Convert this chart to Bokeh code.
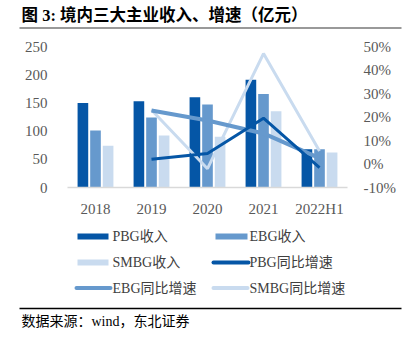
from bokeh.plotting import figure
from bokeh.layouts import column, row
from bokeh.models import (FactorRange, Range1d, LinearAxis, FixedTicker, PrintfTickFormatter,
                          ColumnDataSource)
from bokeh.core.properties import value
from bokeh.transform import dodge
from bokeh.embed import file_html
from bokeh.resources import INLINE

# ---- data ----
years = ["2018", "2019", "2020", "2021", "2022H1"]
pbg_rev = [150, 153, 160, 191, 68]
ebg_rev = [101, 124, 147, 166, 68]
smbg_rev = [74, 92, 90, 135, 62]
growth_years = ["2019", "2020", "2021", "2022H1"]
pbg_growth = [2.0, 4.5, 19.5, -1.5]
ebg_growth = [22.8, 18.5, 13.0, 2.5]
smbg_growth = [23.0, -2.0, 47.0, 5.5]
left_ticks = [0, 50, 100, 150, 200, 250]
right_ticks = [-10, 0, 10, 20, 30, 40, 50]
legend_labels = ["PBG收入", "EBG收入", "SMBG收入", "PBG同比增速", "EBG同比增速", "SMBG同比增速"]

title_text = "图 3:  境内三大主业收入、增速（亿元）"
source_text = "数据来源：wind，东北证券"

C_PBG = "#0556A6"
C_EBG = "#6699CD"
C_SMBG = "#C9DBEF"
SERIF = "Liberation Serif"
MIX = "Liberation Serif, Noto Sans CJK SC"
W = 412


def blank(h):
    f = figure(frame_width=W, frame_height=h, x_range=Range1d(0, W), y_range=Range1d(h, 0),
               x_axis_type=None, y_axis_type=None, output_backend="svg", toolbar_location=None,
               min_border=0, min_border_left=0, min_border_right=0,
               min_border_top=0, min_border_bottom=0, title=None)
    f.outline_line_color = None
    f.grid.grid_line_color = None
    f.border_fill_color = "white"
    f.background_fill_color = "white"
    return f


# ---- title strip (canvas y 0..36) ----
fa = blank(36)
fa.text(x=[21], y=[15], text=[title_text], text_font=value(MIX), text_font_style="bold",
        text_font_size="16.5px", text_baseline="middle", text_color="#000000")
fa.line(x=[19, 210, 401], y=[27.5, 27.5, 27.5], line_color="#999999", line_width=2)

# ---- main chart (canvas y 36..222) ----
p = figure(frame_width=280, frame_height=141, x_range=FactorRange(*years), y_range=Range1d(0, 250),
           output_backend="svg", toolbar_location=None,
           min_border_left=67, min_border_right=65, min_border_top=10, min_border_bottom=35)
p.extra_y_ranges = {"pct": Range1d(-10, 50)}
p.outline_line_color = None
p.grid.grid_line_color = None
p.border_fill_color = "white"

src = ColumnDataSource(dict(x=years, pbg=pbg_rev, ebg=ebg_rev, smbg=smbg_rev))
bw = 0.19
p.vbar(x=dodge("x", -0.225, range=p.x_range), top="pbg", width=bw, source=src,
       fill_color=C_PBG, line_color=None)
p.vbar(x=dodge("x", 0.0, range=p.x_range), top="ebg", width=bw, source=src,
       fill_color=C_EBG, line_color=None)
p.vbar(x=dodge("x", 0.225, range=p.x_range), top="smbg", width=bw, source=src,
       fill_color=C_SMBG, line_color=None)

p.line(growth_years, smbg_growth, y_range_name="pct", line_color=C_SMBG, line_width=3)
p.line(growth_years, ebg_growth, y_range_name="pct", line_color=C_EBG, line_width=4)
p.line(growth_years, pbg_growth, y_range_name="pct", line_color=C_PBG, line_width=3)

p.yaxis.ticker = FixedTicker(ticks=left_ticks)
p.yaxis.axis_line_color = None
p.yaxis.major_tick_line_color = None
p.yaxis.minor_tick_line_color = None
p.yaxis.major_label_text_font = SERIF
p.yaxis.major_label_text_font_size = "15px"
p.yaxis.major_label_text_color = "#595959"
p.yaxis.major_label_standoff = 14

ra = LinearAxis(y_range_name="pct", ticker=FixedTicker(ticks=right_ticks),
                formatter=PrintfTickFormatter(format="%d%%"))
ra.axis_line_color = None
ra.major_tick_line_color = None
ra.minor_tick_line_color = None
ra.major_label_text_font = SERIF
ra.major_label_text_font_size = "15px"
ra.major_label_text_color = "#595959"
ra.major_label_standoff = 10
p.add_layout(ra, "right")

p.xaxis.axis_line_color = "#D9D9D9"
p.xaxis.axis_line_width = 1.5
p.xaxis.major_tick_line_color = None
p.xaxis.minor_tick_line_color = None
p.xaxis.major_label_text_font = SERIF
p.xaxis.major_label_text_font_size = "15px"
p.xaxis.major_label_text_color = "#595959"
p.xaxis.major_label_standoff = 7

# ---- legend + source strip (canvas y 222..338) ----
fc = blank(116)
colors = [C_PBG, C_EBG, C_SMBG, C_PBG, C_EBG, C_SMBG]
sw_x0 = [77, 215, 77, 213, 76, 213]
sw_x1 = [108, 247, 108, 248, 110, 247]
row_y = [14, 14, 40, 40, 65.5, 65.5]
txt_x = [112, 249, 112, 249, 112, 249]
widths = [6, 6, 6, 4, 4, 4]
caps = ["butt", "butt", "butt", "round", "round", "round"]
for i in range(6):
    fc.segment(x0=[sw_x0[i]], y0=[row_y[i]], x1=[sw_x1[i]], y1=[row_y[i]],
               line_color=colors[i], line_width=widths[i], line_cap=caps[i])
fc.text(x=txt_x, y=row_y, text=legend_labels, text_font=value(MIX), text_font_size="14px",
        text_baseline="middle", text_color="#404040")
fc.line(x=[19, 210, 401], y=[86, 86, 86], line_color="#000000", line_width=1.5)
fc.text(x=[21], y=[99], text=[source_text], text_font=value(MIX), text_font_size="14px",
        text_baseline="middle", text_color="#000000")

layout = column(row(fa, spacing=0), row(p, spacing=0), row(fc, spacing=0), spacing=0)
open("out.html", "w").write(file_html(layout, INLINE))
